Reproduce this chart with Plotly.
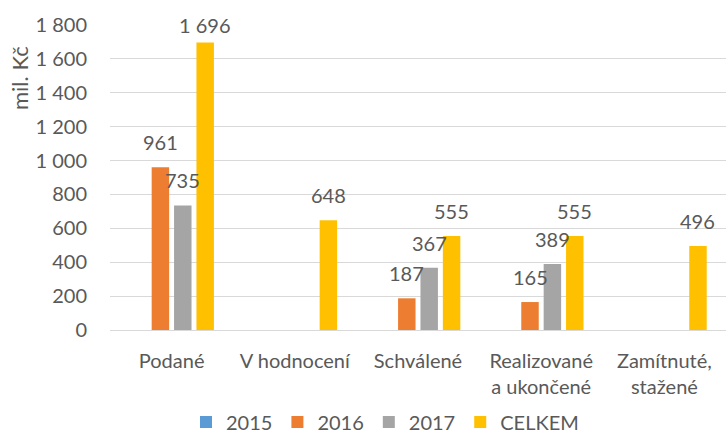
import plotly.graph_objects as go

categories = ["Podané", "V hodnocení", "Schválené", "Realizované<br>a ukončené", "Zamítnuté,<br>stažené"]
series_names = ["2015", "2016", "2017", "CELKEM"]
values_2015 = [None, None, None, None, None]
values_2016 = [961, None, 187, 165, None]
values_2017 = [735, None, 367, 389, None]
values_celkem = [1696, 648, 555, 555, 496]
y_ticks = [0, 200, 400, 600, 800, 1000, 1200, 1400, 1600, 1800]
y_tick_labels = ["0", "200", "400", "600", "800", "1 000", "1 200", "1 400", "1 600", "1 800"]

all_series = [values_2015, values_2016, values_2017, values_celkem]
colors = ["#5B9BD5", "#ED7D31", "#A5A5A5", "#FFC000"]
FONT = "Lato"
FS = 20
TXT = "#595959"
W, H = 726, 437
ML, MR, MT, MB = 110, 0, 25, 107
YMAX = 1800
plot_h = H - MT - MB
plot_w = W - ML - MR
cat_w = plot_w / len(categories)
slot = cat_w * (1 - 0.273) / 4
offsets = [(i - 1.5) * slot for i in range(4)]
label_off = 25 * YMAX / plot_h

def fmt(v):
    return f"{v:,}".replace(",", " ")

fig = go.Figure()
for name, vals, col in zip(series_names, all_series, colors):
    fig.add_trace(go.Bar(name=name, x=categories, y=vals, marker_color=col,
                         marker_line_width=0))

annotations = []
for vals, off in zip(all_series, offsets):
    for c, v in zip(categories, vals):
        if v is None:
            continue
        annotations.append(dict(x=c, y=min(v + label_off, YMAX), text=fmt(v),
                                showarrow=False, xshift=off, yanchor="middle",
                                font=dict(family=FONT, size=FS, color=TXT)))
annotations.append(dict(text="mil. Kč", xref="paper", yref="paper",
                        x=0, xanchor="center", xshift=-ML + 19,
                        y=1 - (78 - MT) / plot_h, yanchor="middle", textangle=-90,
                        showarrow=False, font=dict(family=FONT, size=22, color=TXT)))

fig.update_layout(
    width=W, height=H,
    margin=dict(l=ML, r=MR, t=MT, b=MB, autoexpand=False),
    paper_bgcolor="white", plot_bgcolor="white",
    barmode="group", bargap=0.273, bargroupgap=0.22,
    font=dict(family=FONT, size=FS, color=TXT),
    legend=dict(orientation="h", x=(385 - ML) / plot_w, xanchor="center",
                y=-(422 - (H - MB)) / plot_h, yanchor="middle",
                font=dict(family=FONT, size=FS, color=TXT), itemwidth=30,
                traceorder="normal"),
    annotations=annotations,
    showlegend=True,
)
fig.update_xaxes(showgrid=False, showline=False, ticks="", ticklabelstandoff=17,
                 automargin=False, tickfont=dict(family=FONT, size=FS, color=TXT))
fig.update_yaxes(range=[0, YMAX], tickvals=y_ticks, ticktext=y_tick_labels,
                 showgrid=True, gridcolor="#D9D9D9", gridwidth=1,
                 zeroline=True, zerolinecolor="#D9D9D9", zerolinewidth=1,
                 showline=False, ticks="", ticklabelstandoff=22, automargin=False,
                 tickfont=dict(family=FONT, size=FS, color=TXT))

fig.write_html("out.html", config={"displayModeBar": False},
               post_script="document.body.style.margin='0';")
